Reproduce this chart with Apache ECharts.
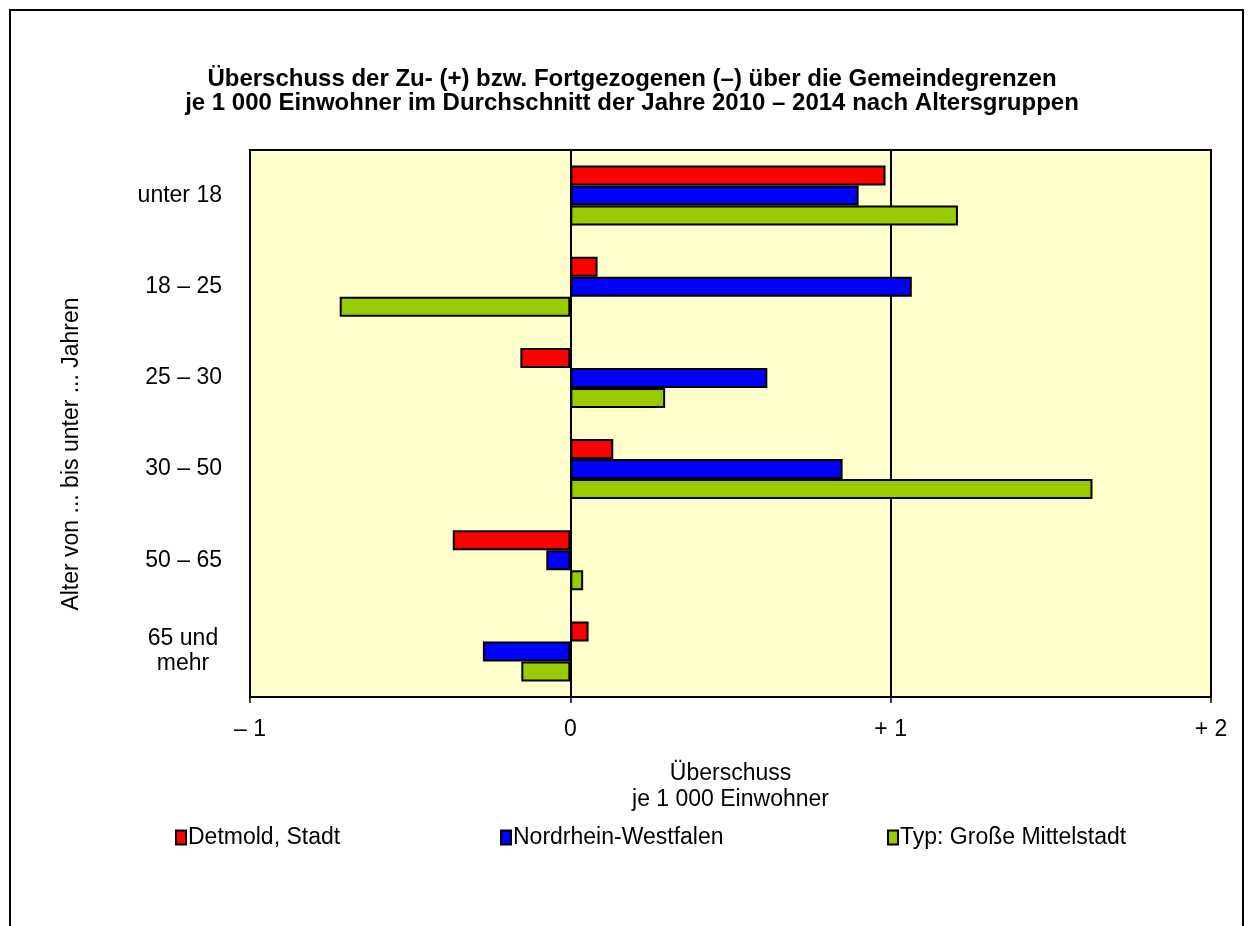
<!DOCTYPE html>
<html>
<head>
<meta charset="utf-8">
<script src="https://cdn.jsdelivr.net/npm/echarts@6/dist/echarts.min.js"></script>
<style>
html,body{margin:0;padding:0;background:#fff;}
#c{width:1253px;height:926px;}
</style>
</head>
<body>
<div id="c"></div>
<script>
const categories = ['unter 18', '18 – 25', '25 – 30', '30 – 50', '50 – 65', '65 und\nmehr'];
const detmold = [0.984, 0.085, -0.156, 0.134, -0.367, 0.057];
const nrw = [0.90, 1.066, 0.615, 0.85, -0.075, -0.273];
const typ = [1.21, -0.72, 0.296, 1.63, 0.04, -0.153];
const xTicks = {'-1': '– 1', '0': '0', '1': '+ 1', '2': '+ 2'};
const seriesNames = ['Detmold, Stadt', 'Nordrhein-Westfalen', 'Typ: Große Mittelstadt'];
const colors = ['#FF0000', '#0000FF', '#99CC00'];

const font = 'Liberation Sans, Arial, sans-serif';
const chart = echarts.init(document.getElementById('c'));
const values = [detmold, nrw, typ];

chart.setOption({
  animation: false,
  textStyle: {fontFamily: font},
  title: {
    text: 'Überschuss der Zu- (+) bzw. Fortgezogenen (–) über die Gemeindegrenzen\nje 1 000 Einwohner im Durchschnitt der Jahre 2010 – 2014 nach Altersgruppen',
    left: 627, top: 62, textAlign: 'center',
    textStyle: {fontFamily: font, fontSize: 24, fontWeight: 'bold', color: '#000', lineHeight: 24}
  },
  graphic: [{
    type: 'rect', shape: {x: 10, y: 10, width: 1233, height: 940},
    style: {fill: 'none', stroke: '#000', lineWidth: 2}, z: -10
  }, {
    type: 'text', x: 72, y: 454, rotation: Math.PI / 2,
    style: {text: 'Alter von ... bis unter ... Jahren', fontFamily: font, fontSize: 23,
      fill: '#000', align: 'center', verticalAlign: 'middle'}
  }],
  legend: seriesNames.map((n, i) => ({
    data: [n],
    left: [170, 495, 882][i], top: 821,
    itemWidth: 10, itemHeight: 14, itemGap: 4,
    textStyle: {fontFamily: font, fontSize: 23, color: '#000', padding: [0, 0, 0, -3]},
    icon: 'rect'
  })),
  grid: {
    left: 250, right: 42, top: 150, bottom: 229,
    show: true, backgroundColor: '#FFFFCC', borderColor: '#000', borderWidth: 2
  },
  xAxis: {
    type: 'value', min: -1, max: 2, interval: 1,
    axisLine: {show: true, onZero: false, lineStyle: {color: '#000', width: 2}},
    axisTick: {show: true, length: 6, lineStyle: {color: '#000', width: 1.5}},
    splitLine: {show: true, lineStyle: {color: '#000', width: 2}},
    axisLabel: {
      fontFamily: font, fontSize: 23, color: '#000', margin: 21,
      formatter: v => xTicks[String(v)]
    },
    name: 'Überschuss\nje 1 000 Einwohner',
    nameLocation: 'middle', nameGap: 64,
    nameTextStyle: {fontFamily: font, fontSize: 23, color: '#000', lineHeight: 26}
  },
  yAxis: {
    type: 'category', data: categories, inverse: true,
    axisLine: {show: true, lineStyle: {color: '#000', width: 2}},
    axisTick: {show: false},
    axisLabel: {
      fontFamily: font, fontSize: 23, color: '#000', margin: 28, lineHeight: 25,
      formatter: v => v.indexOf('\n') >= 0 ? v.split('\n').map(s => '{c|' + s + '}').join('\n') : v,
      rich: {c: {fontFamily: font, fontSize: 23, color: '#000', width: 78, align: 'center', lineHeight: 25}}
    }
  },
  series: seriesNames.map((n, i) => ({
    name: n, type: 'bar', data: values[i],
    barWidth: 20, barGap: '0%',
    itemStyle: {color: colors[i], borderColor: '#000', borderWidth: 2}
  }))
});
</script>
</body>
</html>
